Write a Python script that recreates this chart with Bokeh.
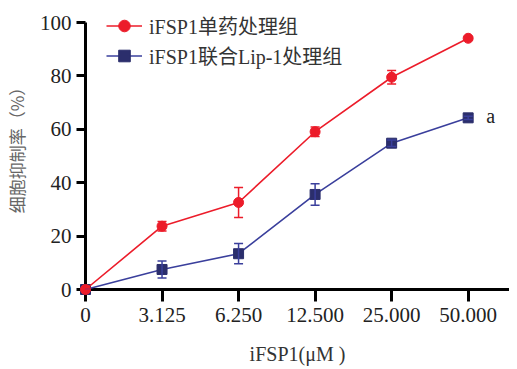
from bokeh.plotting import figure
from bokeh.models import Range1d, FixedTicker, Legend, LegendItem, Whisker, TeeHead, ColumnDataSource, Label
from bokeh.embed import file_html
from bokeh.resources import INLINE

categories = ["0", "3.125", "6.250", "12.500", "25.000", "50.000"]
single_vals = [0, 23.7, 32.6, 59.1, 79.5, 94.1]
single_err = [0, 1.8, 5.6, 1.8, 2.5, 0.6]
combo_vals = [0, 7.5, 13.4, 35.6, 54.8, 64.3]
combo_err = [0, 3.2, 3.8, 4.0, 1.2, 0.6]
legend_labels = ["iFSP1单药处理组", "iFSP1联合Lip-1处理组"]
y_ticks = [0, 20, 40, 60, 80, 100]

RED = "#EC1C2A"
BLUE_LINE = "#3A3F9C"
BLUE_MARK = "#2B2E6C"
SERIF = "Liberation Serif, Noto Sans CJK SC"

xs = list(range(len(categories)))

p = figure(width=509, height=368, output_backend="svg", toolbar_location=None,
           x_range=Range1d(0, 5.54), y_range=Range1d(0, 107.5),
           min_border_left=77, min_border_right=0, min_border_top=2, min_border_bottom=79)
p.outline_line_color = None
p.xgrid.visible = False
p.ygrid.visible = False
p.background_fill_color = "white"

def mk_src(vals, err):
    return ColumnDataSource(dict(x=xs, y=vals,
                                 lo=[v - e for v, e in zip(vals, err)],
                                 hi=[v + e for v, e in zip(vals, err)]))

src_b = mk_src(combo_vals, combo_err)
src_r = mk_src(single_vals, single_err)

for src, lc, mc in [(src_b, BLUE_LINE, BLUE_MARK), (src_r, RED, RED)]:
    w = Whisker(source=src, base="x", lower="lo", upper="hi", line_color=lc, line_width=1.5,
                upper_head=TeeHead(size=9, line_color=lc, line_width=1.5),
                lower_head=TeeHead(size=9, line_color=lc, line_width=1.5), level="overlay")
    p.add_layout(w)

lb = p.line("x", "y", source=src_b, line_color=BLUE_LINE, line_width=1.6, level="overlay")
mb = p.scatter("x", "y", source=src_b, marker="square", size=10, fill_color=BLUE_MARK,
               line_color=BLUE_MARK, level="overlay")
lr = p.line("x", "y", source=src_r, line_color=RED, line_width=1.6, level="overlay")
mr = p.scatter("x", "y", source=src_r, marker="circle", size=10, fill_color=RED,
               line_color=RED, level="overlay")

legend = Legend(items=[LegendItem(label=legend_labels[0], renderers=[lr, mr]),
                       LegendItem(label=legend_labels[1], renderers=[lb, mb])],
                location=(21, 219), border_line_color=None, background_fill_alpha=0,
                padding=0, margin=0, spacing=1, glyph_width=36, glyph_height=29,
                label_standoff=7, label_text_font=SERIF, label_text_font_size="20px",
                label_text_color="#333333", label_height=29)
p.add_layout(legend, "center")

p.add_layout(Label(x=5, y=combo_vals[-1], text="a", x_offset=18, y_offset=-9,
                   text_font=SERIF, text_font_size="20px", text_color="#222222"))

for ax in (p.xaxis[0], p.yaxis[0]):
    ax.axis_line_width = 3
    ax.axis_line_color = "black"
    ax.major_tick_line_width = 3
    ax.major_tick_line_color = "black"
    ax.major_tick_in = 0
    ax.minor_tick_line_color = None
    ax.major_label_text_font = SERIF
    ax.major_label_text_font_size = "21px"
    ax.major_label_text_color = "#222222"
    ax.major_label_text_line_height = 1.0
    ax.axis_label_text_line_height = 1.0

p.yaxis.bounds = (0, 100)

p.xaxis.ticker = FixedTicker(ticks=xs)
p.xaxis.major_label_overrides = {i: c for i, c in enumerate(categories)}
p.xaxis.major_tick_out = 12
p.xaxis.major_label_standoff = 6
p.xaxis.axis_label = "iFSP1(μM )"
p.xaxis.axis_label_text_font = SERIF
p.xaxis.axis_label_text_font_size = "20px"
p.xaxis.axis_label_text_font_style = "normal"
p.xaxis.axis_label_text_color = "#333333"
p.xaxis.axis_label_standoff = 18

p.yaxis.ticker = FixedTicker(ticks=y_ticks)
p.yaxis.major_tick_out = 9
p.yaxis.major_label_standoff = 5
p.yaxis.axis_label = "细胞抑制率（%）"
p.yaxis.axis_label_text_font = "Noto Sans CJK SC"
p.yaxis.axis_label_text_font_size = "17px"
p.yaxis.axis_label_text_font_style = "normal"
p.yaxis.axis_label_text_color = "#666666"
p.yaxis.axis_label_standoff = 8

open("out.html", "w").write(file_html(p, INLINE))
